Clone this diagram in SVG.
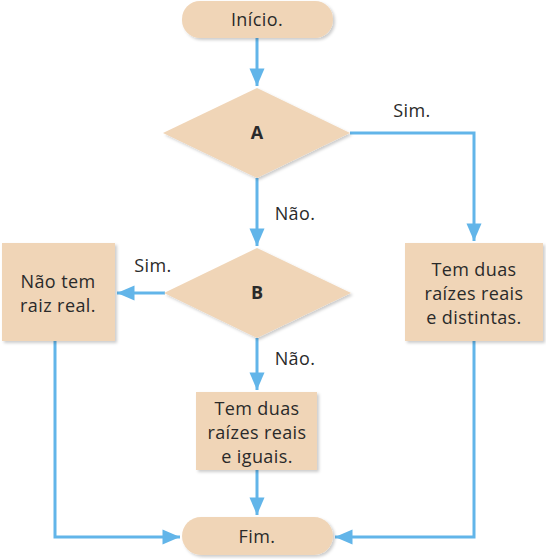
<svg xmlns="http://www.w3.org/2000/svg" width="546" height="559" viewBox="0 0 546 559">
<defs>
<style>
.n{fill:#f0d5b7}
.t{font-family:"Open Sans","Liberation Sans",sans-serif;font-size:18px;letter-spacing:0.4px;fill:#2a2a2a;text-anchor:middle}
.b{font-family:"Open Sans","Liberation Sans",sans-serif;font-size:18px;font-weight:bold;fill:#2a2a2a;text-anchor:middle}
.c{fill:none;stroke:#62b5e9;stroke-width:3}
</style>
<filter id="sh" x="-10%" y="-10%" width="130%" height="130%">
<feDropShadow dx="2" dy="2" stdDeviation="1.5" flood-color="#000" flood-opacity="0.2"/>
</filter>
<marker id="ah" markerWidth="6" markerHeight="6" refX="5.5" refY="3" orient="auto" markerUnits="userSpaceOnUse" viewBox="0 0 6 6" style="overflow:visible">
<path d="M-12,-4.5 L5.5,3 L-12,10.5 Z" fill="#62b5e9"/>
</marker>
</defs>
<g id="connectors">
<path class="c" d="M257,38 V86" marker-end="url(#ah)"/>
<path class="c" d="M350,133 H474 V241" marker-end="url(#ah)"/>
<path class="c" d="M257,178 V246" marker-end="url(#ah)"/>
<path class="c" d="M165,293 H117" marker-end="url(#ah)"/>
<path class="c" d="M257,338 V390" marker-end="url(#ah)"/>
<path class="c" d="M257,470 V515" marker-end="url(#ah)"/>
<path class="c" d="M55,341 V537 H180" marker-end="url(#ah)"/>
<path class="c" d="M474,341 V537 H335" marker-end="url(#ah)"/>
<text class="t" x="412" y="117">Sim.</text>
<text class="t" x="295" y="220">Não.</text>
<text class="t" x="153" y="272">Sim.</text>
<text class="t" x="295" y="365">Não.</text>
</g>
<g id="inicio">
<rect class="n" x="182" y="1" width="151" height="37" rx="18" filter="url(#sh)"/>
<text class="t" x="257" y="26">Início.</text>
</g>
<g id="A">
<polygon class="n" points="257,88 350,133 257,178 163,133" filter="url(#sh)"/>
<text class="b" x="257" y="139">A</text>
</g>
<g id="B">
<polygon class="n" points="257,248 351,293 257,338 164,293" filter="url(#sh)"/>
<text class="b" x="257" y="299">B</text>
</g>
<g id="semraiz">
<rect class="n" x="2" y="243" width="113" height="98" filter="url(#sh)"/>
<text class="t" x="58" y="288">Não tem</text>
<text class="t" x="58" y="312">raiz real.</text>
</g>
<g id="distintas">
<rect class="n" x="405" y="243" width="138" height="98" filter="url(#sh)"/>
<text class="t" x="474" y="276">Tem duas</text>
<text class="t" x="474" y="300">raízes reais</text>
<text class="t" x="474" y="324">e distintas.</text>
</g>
<g id="iguais">
<rect class="n" x="196" y="392" width="121" height="78" filter="url(#sh)"/>
<text class="t" x="257" y="415">Tem duas</text>
<text class="t" x="257" y="439">raízes reais</text>
<text class="t" x="257" y="463">e iguais.</text>
</g>
<g id="fim">
<rect class="n" x="182" y="517" width="151" height="38" rx="19" filter="url(#sh)"/>
<text class="t" x="257" y="543">Fim.</text>
</g>
</svg>
